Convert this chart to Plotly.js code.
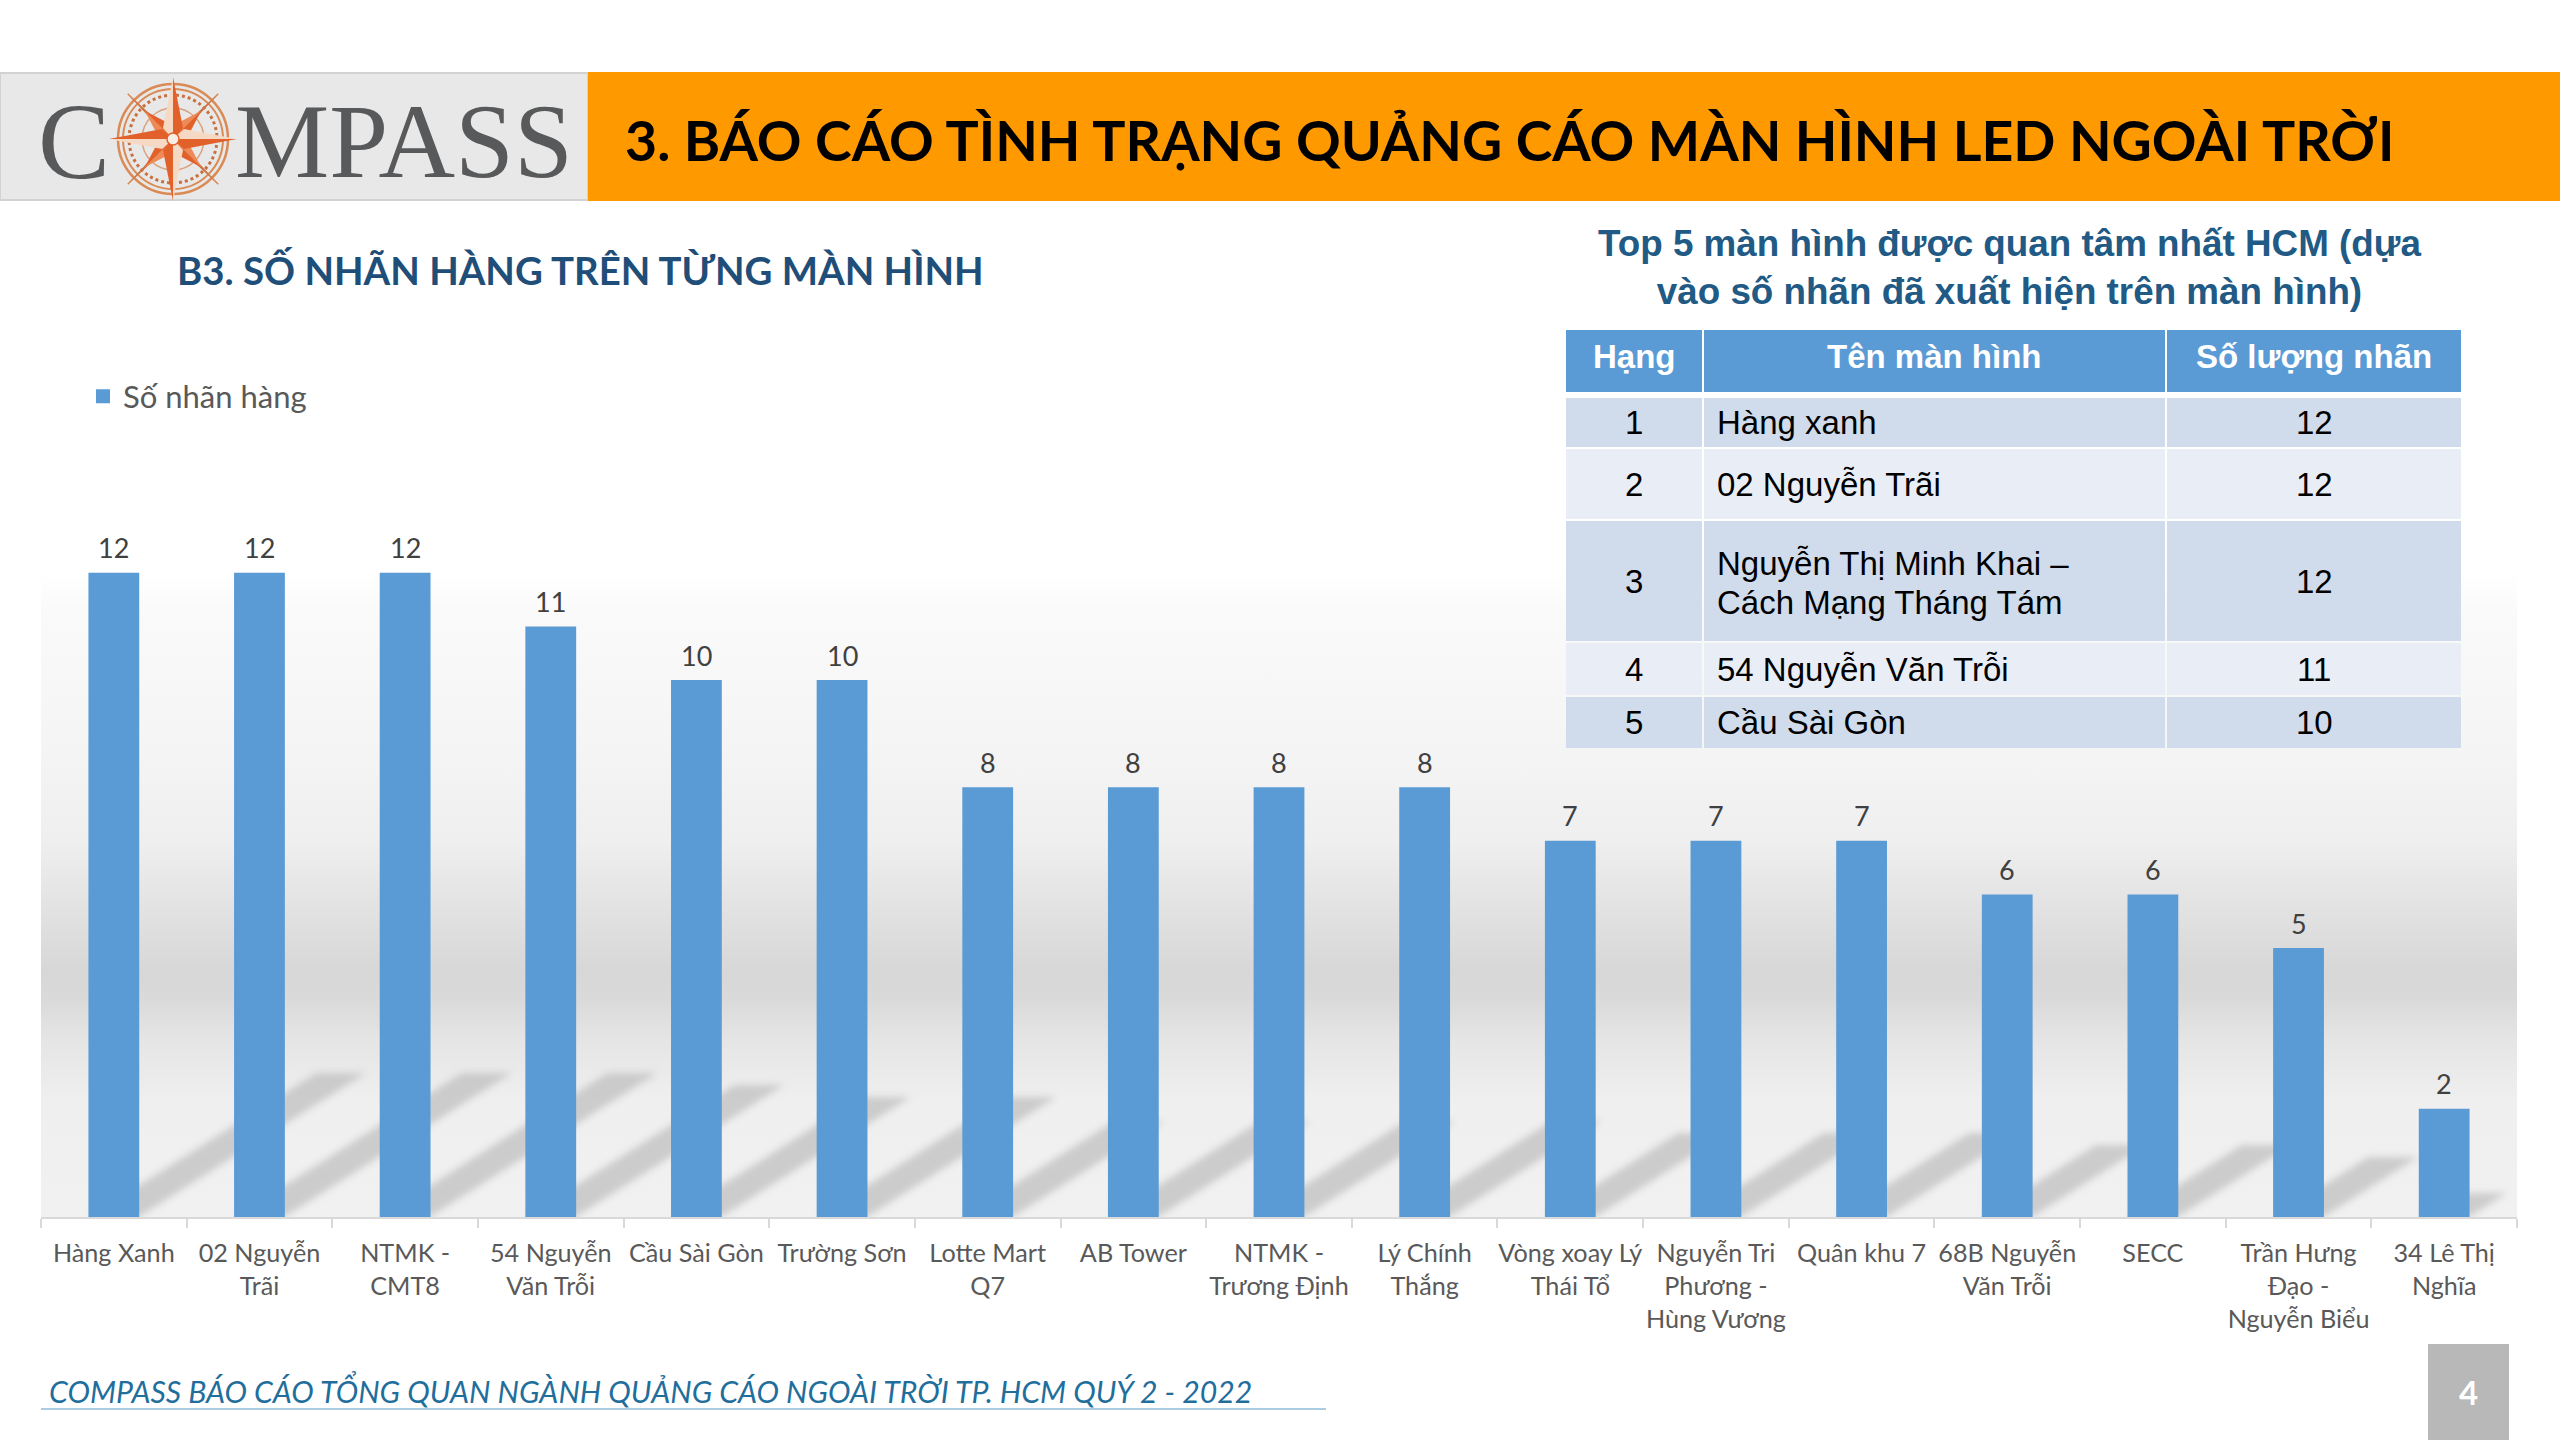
<!DOCTYPE html>
<html lang="vi">
<head>
<meta charset="utf-8">
<title>Compass</title>
<script src="https://cdn.plot.ly/plotly-3.0.1.min.js"></script>
<style>
html,body{margin:0;padding:0;background:#fff;width:2560px;height:1440px;overflow:hidden}
#bg{position:absolute;left:41px;top:570px;width:2476px;height:647px;
background:linear-gradient(to bottom,#ffffff 0px,#fafafa 40px,#f5f5f5 170px,#efefef 270px,#e2e2e2 340px,#d7d7d7 402px,#dadada 430px,#e5e5e5 470px,#efefef 530px,#f1f1f1 647px)}
#chart{position:absolute;left:0;top:0;width:2560px;height:1440px}
#chart .shapelayer path.cast{filter:blur(3.5px)}
</style>
</head>
<body>
<div id="bg"></div>
<div id="chart"></div>
<script>
const categories = ["Hàng Xanh","02 Nguyễn<br>Trãi","NTMK -<br>CMT8","54 Nguyễn<br>Văn Trỗi","Cầu Sài Gòn","Trường Sơn","Lotte Mart<br>Q7","AB Tower","NTMK -<br>Trương Định","Lý Chính<br>Thắng","Vòng xoay Lý<br>Thái Tổ","Nguyễn Tri<br>Phương -<br>Hùng Vương","Quân khu 7","68B Nguyễn<br>Văn Trỗi","SECC","Trần Hưng<br>Đạo -<br>Nguyễn Biểu","34 Lê Thị<br>Nghĩa"];
const values = [12,12,12,11,10,10,8,8,8,8,7,7,7,6,6,5,2];
const seriesName = "Số nhãn hàng";
const tableHead = ["Hạng","Tên màn hình","Số lượng nhãn"];
const tableRank = ["1","2","3","4","5"];
const tableName = ["Hàng xanh","02 Nguyễn Trãi","Nguyễn Thị Minh Khai –<br>Cách Mạng Tháng Tám","54 Nguyễn Văn Trỗi","Cầu Sài Gòn"];
const tableCount = ["12","12","12","11","10"];

const W = 2560, H = 1440;
const px = x => x / W;
const py = y => 1 - y / H;
const BAR = "#5B9BD5", NAVY = "#1F4E79";
const SANS = "Lato, 'Noto Sans', sans-serif";
const ARIAL = "'Liberation Sans', Arial, sans-serif";
const plotL = 41, plotR = 2517, base = 1217, unit = 53.6, yMax = 14;

const shapes = [], annotations = [];
const rect = (x0,y0,x1,y1,fill,extra) => shapes.push(Object.assign({type:"rect",xref:"paper",yref:"paper",x0:px(x0),x1:px(x1),y0:py(y0),y1:py(y1),fillcolor:fill,line:{width:0},layer:"below"},extra||{}));
const text = (x,y,t,size,color,o) => annotations.push(Object.assign({xref:"paper",yref:"paper",x:px(x),y:py(y),text:t,showarrow:false,xanchor:"left",yanchor:"middle",borderpad:0,font:{family:SANS,size:size,color:color}},o||{}));

// cast shadows: each one follows its own bar's value in data units
const half = 0.17, lean = 0.13, rise = 0.224;
values.forEach((v,i) => {
  shapes.push({type:"path",xref:"x",yref:"y",layer:"below",line:{width:0},fillcolor:"rgba(190,190,190,0.72)",
    path:`M${i-half},0 L${i+half},0 L${i+half+lean*v},${rise*v} L${i-half+lean*v},${rise*v} Z`});
});

// value labels above the bars
values.forEach((v,i) => {
  annotations.push({xref:"x",yref:"y",x:i,y:v,yshift:26,text:String(v),showarrow:false,xanchor:"center",yanchor:"middle",borderpad:0,
    font:{family:SANS,size:27,color:"#404040"}});
});

// header band
rect(0,73,588,200,"#E8E8E8",{line:{color:"#D2D2D2",width:2}});
rect(588,72,2560,201,"#FF9900");
const serif = s => ({family:"'Liberation Serif',serif",size:s,color:"#58595B"});
text(37,142,"C",108,"#58595B",{font:serif(108)});
text(234,142,"MPASS",106,"#58595B",{font:serif(106)});

// compass emblem
const cx = 173, cy = 139;
const ring = (r,c,w,dash) => shapes.push({type:"circle",xref:"paper",yref:"paper",layer:"below",x0:px(cx-r),x1:px(cx+r),y0:py(cy-r),y1:py(cy+r),line:{color:c,width:w,dash:dash||"solid"}});
ring(55,"#D98A55",2.5); ring(50,"#D98A55",2); ring(44,"#C9703F",3,"dot"); ring(31,"#D9A27F",1.5);
const poly = (pts,fill) => shapes.push({type:"path",xref:"paper",yref:"paper",layer:"below",line:{width:0},fillcolor:fill,
  path:"M"+pts.map(p=>px(cx+p[0])+","+py(cy+p[1])).join(" L")+" Z"});
const arm = (deg,len,w,c1,c2) => {
  const a = deg*Math.PI/180, ux = Math.cos(a), uy = Math.sin(a), nx = -uy, ny = ux;
  const tip = [ux*len,uy*len], b1 = [ux*11+nx*w,uy*11+ny*w], b2 = [ux*11-nx*w,uy*11-ny*w];
  poly([tip,b1,[0,0]],c1); poly([tip,b2,[0,0]],c2);
};
[45,135,225,315].forEach(d => {
  const a = d*Math.PI/180;
  shapes.push({type:"line",xref:"paper",yref:"paper",layer:"below",x0:px(cx),y0:py(cy),x1:px(cx+Math.cos(a)*64),y1:py(cy+Math.sin(a)*64),line:{color:"#D98A55",width:1.5}});
  arm(d,64,2.5,"#C9703F","#C9703F");
  arm(d,40,9,"#E2602A","#EE8A58");
});
[0,90,180,270].forEach(d => arm(d,d%180?62:64,10,"#E2602A","#F6D9C4"));
shapes.push({type:"circle",xref:"paper",yref:"paper",layer:"below",x0:px(cx-6),x1:px(cx+6),y0:py(cy-6),y1:py(cy+6),fillcolor:"#F8EDE4",line:{color:"#E2602A",width:1.5}});

// headings
text(624,140,"3. BÁO CÁO TÌNH TRẠNG QUẢNG CÁO MÀN HÌNH LED NGOÀI TRỜI",55.4,"#000000",{font:{family:SANS,size:55.4,color:"#000",weight:700}});
text(176,270,"B3. SỐ NHÃN HÀNG TRÊN TỪNG MÀN HÌNH",38.4,NAVY,{font:{family:SANS,size:38.4,color:NAVY,weight:700}});
text(2009,267,"Top 5 màn hình được quan tâm nhất HCM (dựa<br>vào số nhãn đã xuất hiện trên màn hình)",36.8,"#215A84",{xanchor:"center",font:{family:ARIAL,size:36.8,color:"#215A84",weight:700}});

// side table
const colX = [[1566,1702],[1704,2165],[2167,2461]];
const headRow = [330,392];
const rowsY = [[398,447],[449,519],[521,641],[643,695],[697,748]];
const lineGap = 40;
colX.forEach((c,j) => {
  rect(c[0],headRow[0],c[1],headRow[1],BAR);
  text((c[0]+c[1])/2,356,tableHead[j],33,"#fff",{xanchor:"center",font:{family:ARIAL,size:33,color:"#fff",weight:700}});
});
rowsY.forEach((r,i) => {
  const fill = i%2 ? "#E9EEF6" : "#D0DCEC";
  colX.forEach(c => rect(c[0],r[0],c[1],r[1],fill));
  const my = (r[0]+r[1])/2;
  const f = {family:ARIAL,size:33,color:"#000"};
  text((colX[0][0]+colX[0][1])/2,my,tableRank[i],33,"#000",{xanchor:"center",font:f});
  const lines = tableName[i].split("<br>");
  lines.forEach((ln,k) => text(1716,my+(k-(lines.length-1)/2)*lineGap+(lines.length>1?2:0),ln,33,"#000",{font:f}));
  text((colX[2][0]+colX[2][1])/2,my,tableCount[i],33,"#000",{xanchor:"center",font:f});
});

// footer
text(48,1389,"COMPASS BÁO CÁO TỔNG QUAN NGÀNH QUẢNG CÁO NGOÀI TRỜI TP. HCM QUÝ 2 - 2022",30.2,"#1F6E9C",{font:{family:SANS,size:30.2,color:"#1F6E9C",style:"italic"}});
shapes.push({type:"line",xref:"paper",yref:"paper",layer:"below",x0:px(41),x1:px(1326),y0:py(1409),y1:py(1409),line:{color:"#8FBCD8",width:1.5}});
rect(2428,1344,2509,1440,"#B8B8B8");
text(2468,1392,"4",33,"#fff",{xanchor:"center",font:{family:SANS,size:33,color:"#fff",weight:700}});

const trace = {
  type:"bar", x:categories, y:values, name:seriesName, width:0.335,
  marker:{color:BAR,line:{color:BAR,width:2}},
  hoverinfo:"x+y", showlegend:true
};
const layout = {
  width:W, height:H, margin:{l:0,r:0,t:0,b:0,pad:0},
  paper_bgcolor:"rgba(0,0,0,0)", plot_bgcolor:"rgba(0,0,0,0)",
  showlegend:true,
  legend:{x:px(83),y:py(396.5),xanchor:"left",yanchor:"middle",bgcolor:"rgba(0,0,0,0)",font:{family:SANS,size:31,color:"#595959"},itemwidth:30},
  xaxis:{type:"category",domain:[px(plotL),px(plotR)],range:[-0.5,16.5],tickson:"boundaries",ticks:"outside",ticklen:9,tickwidth:2,tickcolor:"#D9D9D9",
    showline:true,linecolor:"#D9D9D9",linewidth:2,showgrid:false,zeroline:false,tickangle:0,automargin:false,
    tickfont:{family:SANS,size:25.2,color:"#595959"},ticklabelstandoff:13},
  yaxis:{domain:[py(base),py(base-unit*yMax)],range:[0,yMax],visible:false,fixedrange:true},
  shapes:shapes, annotations:annotations
};
Plotly.newPlot("chart",[trace],layout,{displayModeBar:false,staticPlot:true}).then(gd => {
  const castCount = values.length;
  gd.querySelectorAll(".shapelayer path").forEach(p => {
    if ((p.getAttribute("data-index")|0) < castCount) p.classList.add("cast");
  });
});
</script>
</body>
</html>
